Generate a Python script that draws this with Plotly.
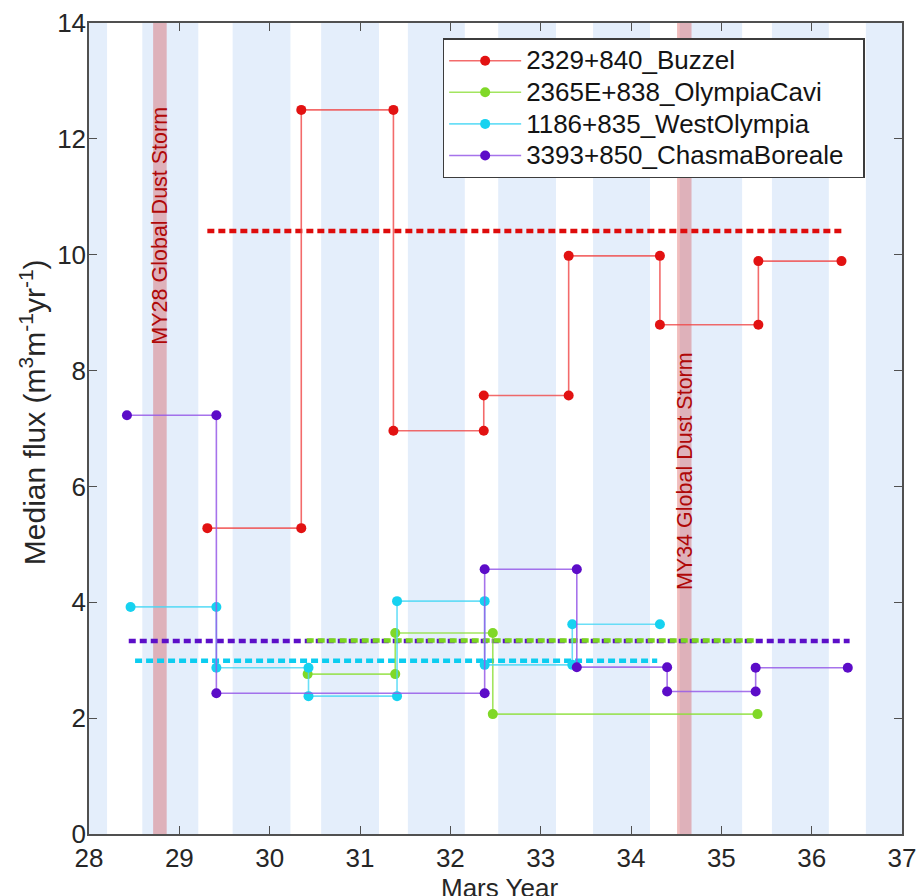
import plotly.graph_objects as go

# ---------------- data ----------------
series_names = ["2329+840_Buzzel", "2365E+838_OlympiaCavi",
                "1186+835_WestOlympia", "3393+850_ChasmaBoreale"]

# step segments: start year, end year, median flux
buzzel_start = [29.31, 30.35, 31.37, 32.37, 33.31, 34.32, 35.41]
buzzel_end   = [30.35, 31.37, 32.37, 33.31, 34.32, 35.41, 36.33]
buzzel_val   = [5.28, 12.50, 6.96, 7.57, 9.98, 8.79, 9.89]

olympia_start = [30.42, 31.39, 32.47]
olympia_end   = [31.39, 32.47, 35.40]
olympia_val   = [2.76, 3.47, 2.07]

west_start = [28.46, 29.41, 30.43, 31.41, 32.38, 33.35]
west_end   = [29.41, 30.43, 31.41, 32.38, 33.35, 34.32]
west_val   = [3.92, 2.87, 2.38, 4.02, 2.92, 3.62]

chasma_start = [28.42, 29.41, 32.38, 33.40, 34.40, 35.38]
chasma_end   = [29.41, 32.38, 33.40, 34.40, 35.38, 36.40]
chasma_val   = [7.23, 2.43, 4.57, 2.88, 2.46, 2.87]

# long-term mean lines (value, start year, end year) in drawing order
mean_names = ["Buzzel", "ChasmaBoreale", "OlympiaCavi", "WestOlympia"]
mean_val   = [10.41, 3.33, 3.34, 2.99]
mean_start = [29.31, 28.44, 30.41, 28.51]
mean_end   = [36.36, 36.42, 35.38, 34.29]

# shaded seasons (Mars year)
band_start = [27.9, 28.59, 29.59, 30.57, 31.53, 32.53, 33.58, 34.54, 35.56, 36.60]
band_end   = [28.20, 29.21, 30.23, 31.21, 32.16, 33.17, 34.21, 35.23, 36.19, 37.10]

# global dust storms
storm_start = [28.71, 34.51]
storm_end   = [28.86, 34.67]
storm_label = ["MY28 Global Dust Storm", "MY34 Global Dust Storm"]
storm_label_y = [10.5, 6.27]

x_ticks = [28, 29, 30, 31, 32, 33, 34, 35, 36, 37]
y_ticks = [0, 2, 4, 6, 8, 10, 12, 14]

# ---------------- styles ----------------
marker_cols = ["rgb(226,18,18)", "rgb(128,216,40)", "rgb(22,210,240)", "rgb(92,12,200)"]
line_cols = ["rgba(240,70,70,0.8)", "rgba(140,222,55,0.8)", "rgba(70,215,245,0.8)", "rgba(150,90,232,0.85)"]
mean_cols = {"Buzzel": "rgb(222,12,12)", "ChasmaBoreale": "rgb(92,15,200)",
             "OlympiaCavi": "rgb(122,214,30)", "WestOlympia": "rgb(12,205,240)"}

FONT = "Liberation Sans, Arial, Helvetica, sans-serif"
TXT = "rgb(38,38,38)"


def steps(starts, ends, vals):
    xs, ys = [], []
    for s, e, v in zip(starts, ends, vals):
        xs += [s, e]
        ys += [v, v]
    return xs, ys


fig = go.Figure()

# mean lines first (below step lines)
for nm, v, s, e in zip(mean_names, mean_val, mean_start, mean_end):
    fig.add_trace(go.Scatter(x=[s, e], y=[v, v], mode="lines",
                             line=dict(color=mean_cols[nm], width=4.5, dash="7px,4px"),
                             showlegend=False, hoverinfo="skip"))

all_series = [(buzzel_start, buzzel_end, buzzel_val),
              (olympia_start, olympia_end, olympia_val),
              (west_start, west_end, west_val),
              (chasma_start, chasma_end, chasma_val)]

for i, (st, en, va) in enumerate(all_series):
    xs, ys = steps(st, en, va)
    fig.add_trace(go.Scatter(x=xs, y=ys, mode="lines+markers",
                             name="<span style='font-size:26px'>" + series_names[i] + "&nbsp;&nbsp;</span>",
                             line=dict(color=line_cols[i], width=1.6),
                             marker=dict(color=marker_cols[i], size=10)))

shapes = []
for s, e in zip(band_start, band_end):
    shapes.append(dict(type="rect", xref="x", yref="paper", x0=s, x1=e, y0=0, y1=1,
                       fillcolor="rgb(228,238,251)", line=dict(width=0), layer="below"))
for s, e in zip(storm_start, storm_end):
    shapes.append(dict(type="rect", xref="x", yref="paper", x0=s, x1=e, y0=0, y1=1,
                       fillcolor="rgba(210,50,50,0.32)", line=dict(width=0), layer="below"))

annotations = []
for s, e, lab, ly in zip(storm_start, storm_end, storm_label, storm_label_y):
    annotations.append(dict(x=(s + e) / 2, y=ly, xref="x", yref="y", text=lab,
                            textangle=-90, showarrow=False,
                            font=dict(family=FONT, size=21.5, color="rgb(175,8,8)")))
annotations.append(dict(x=0.5055, y=-0.066, xref="paper", yref="paper", text="Mars Year",
                        showarrow=False, xanchor="center", yanchor="middle",
                        font=dict(family=FONT, size=26, color=TXT)))
annotations.append(dict(x=-0.069, y=0.52, xref="paper", yref="paper",
                        text="Median flux (m<sup>3</sup>m<sup>-1</sup>yr<sup>-1</sup>)",
                        textangle=-90, showarrow=False, xanchor="center", yanchor="middle",
                        font=dict(family=FONT, size=30, color=TXT)))

axis_common = dict(showgrid=False, zeroline=False, showline=True, linecolor="rgb(80,80,80)",
                   linewidth=1.5, mirror="ticks", ticks="inside", ticklen=8,
                   tickcolor="rgb(80,80,80)", tickwidth=1.2, automargin=False,
                   tickfont=dict(family=FONT, size=26, color=TXT))

fig.update_layout(
    width=919, height=896,
    margin=dict(l=89, r=17, t=23, b=62),
    paper_bgcolor="white", plot_bgcolor="white",
    shapes=shapes, annotations=annotations,
    xaxis=dict(range=[28, 37], tickvals=x_ticks, **axis_common),
    yaxis=dict(range=[0, 14], tickvals=y_ticks, ticklabelstandoff=-4, **axis_common),
    legend=dict(x=0.435, y=0.981, xanchor="left", yanchor="top",
                bgcolor="white", bordercolor="rgb(60,60,60)", borderwidth=1.5,
                font=dict(family=FONT, size=22, color="rgb(20,20,20)"),
                itemwidth=72, tracegroupgap=0),
    showlegend=True,
)

fig.write_html("out.html")
